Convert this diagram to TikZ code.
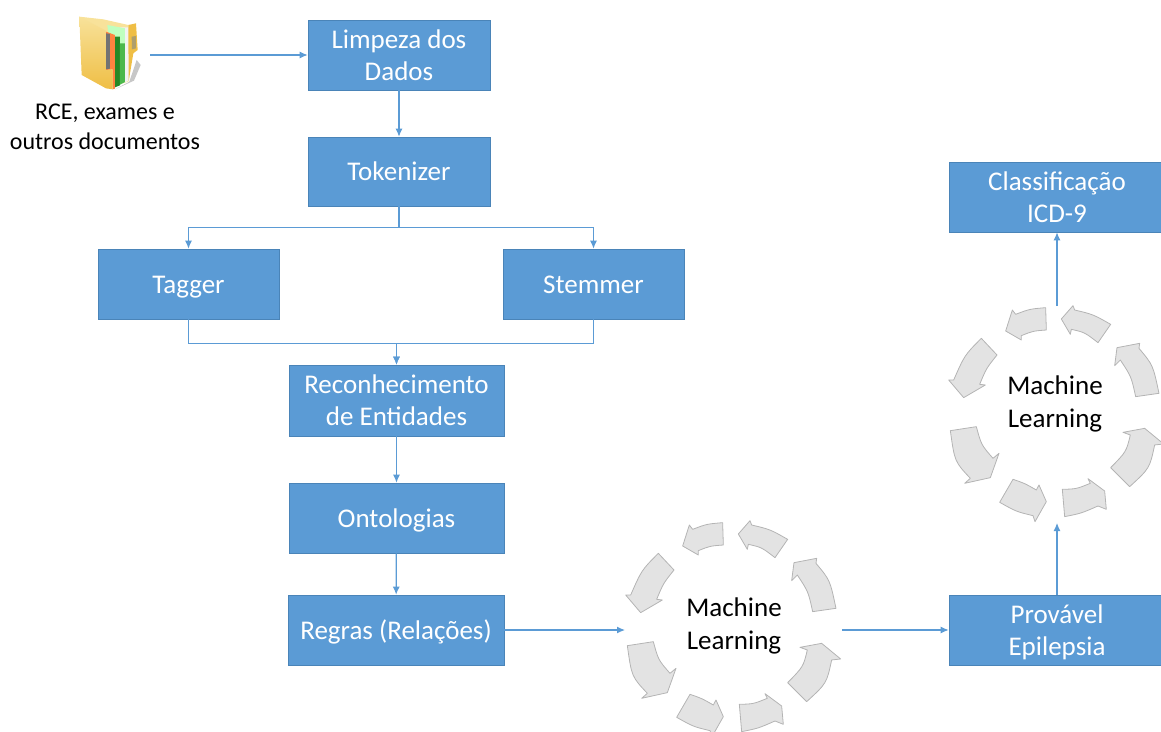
\documentclass[tikz,border=0pt]{standalone}
\usepackage{fontspec}
\setmainfont{Carlito}
\usetikzlibrary{arrows.meta}

\definecolor{boxblue}{HTML}{5B9BD5}
\definecolor{boxedge}{HTML}{4A84B8}
\definecolor{ringfill}{HTML}{E3E3E3}
\definecolor{ringedge}{HTML}{B4B4B4}
\definecolor{folderlight}{HTML}{F8E29A}
\definecolor{folderdark}{HTML}{EFBE45}

% one ring of eight curved arrows, traced in units of a third of a pixel
\newcommand{\mlring}{%
    \draw[ringarrow] (533,88) .. controls (480,58) .. (425,45) -- (420,32) -- (385,72) -- (412,118) -- (415,103) .. controls (455,112) .. (495,143) -- cycle;
    \draw[ringarrow] (338,38) .. controls (290,42) .. (248,58) -- (238,45) -- (218,108) -- (265,135) -- (265,122) .. controls (300,108) .. (340,105) -- cycle;
    \draw[ringarrow] (145,130) .. controls (95,180) .. (62,255) -- (47,255) -- (92,308) -- (157,270) -- (140,268) .. controls (160,220) .. (192,180) -- cycle;
    \draw[ringarrow] (52,407) .. controls (65,500) .. (112,550) -- (95,565) -- (172,548) -- (198,475) -- (180,490) .. controls (145,450) .. (130,395) -- cycle;
    \draw[ringarrow] (240,553) .. controls (275,565) .. (310,585) -- (318,570) -- (340,620) -- (306,680) -- (300,662) .. controls (250,650) .. (200,622) -- cycle;
    \draw[ringarrow] (388,583) .. controls (430,582) .. (472,565) -- (465,551) -- (515,588) -- (520,643) -- (495,633) .. controls (445,655) .. (395,665) -- cycle;
    \draw[ringarrow] (590,575) .. controls (650,520) .. (665,450) -- (692,447) -- (635,400) -- (570,412) -- (592,420) .. controls (580,470) .. (533,518) -- cycle;
    \draw[ringarrow] (678,295) .. controls (660,210) .. (618,160) -- (620,145) -- (552,158) -- (545,212) -- (562,195) .. controls (595,245) .. (608,305) -- cycle;
}

\begin{document}
\begin{tikzpicture}[x=1pt, y=-1pt,
    box/.style={draw=boxedge, line width=0.6pt, fill=boxblue, text=white, align=center,
        font=\fontsize{27}{32}\selectfont, inner sep=0pt},
    oneline/.style={box, execute at begin node={\rule{0pt}{28pt}}, execute at end node=\strut},
    plain/.style={align=center, inner sep=0pt},
    link/.style={draw=boxblue, line width=1.2pt, -{Latex[length=8pt,width=7pt]}},
    ringarrow/.style={draw=ringedge, fill=ringfill, line width=0.8pt, line join=round}]

    \useasboundingbox (0, 0) rectangle (1161, 731);
    \clip (0, 0) rectangle (1161, 731);

    % Folder icon
    \begin{scope}[shift={(70, 10)}, x=0.3333pt, y=-0.3333pt]
        \fill[black!22] (178, 215) -- (200, 150) -- (212, 165) -- (192, 212) -- (135, 238) -- cycle; % shadow
        \fill[folderlight] (28, 20) -- (100, 28) -- (175, 45) -- (175, 215) -- (108, 235) -- cycle; % back
        \fill[black!5] (150, 52) -- (178, 52) -- (178, 212) -- (150, 222) -- cycle; % sheet
        \fill[green!25!white] (112, 45) -- (165, 55) -- (165, 215) -- (135, 225) -- cycle;
        \fill[green!45!black!85] (135, 80) -- (150, 80) -- (150, 226) -- (135, 232) -- cycle;
        \fill[green!60!black!70] (150, 100) -- (165, 100) -- (165, 216) -- (150, 224) -- cycle;
        \fill[orange!70!red!75] (108, 65) -- (135, 75) -- (135, 236) -- (128, 238) -- (128, 178) -- (108, 180) -- cycle; % page
        \fill[black!55] (108, 70) -- (120, 72) -- (120, 176) -- (108, 178) -- cycle;
        \fill[folderdark] (175, 45) -- (198, 40) -- (203, 120) -- (190, 130) -- (176, 214) -- cycle; % rear tab
        \fill[black!30!folderlight] (185, 80) -- (198, 78) -- (198, 115) -- (186, 118) -- cycle;
        \shade[top color=folderlight, bottom color=folderdark] (28, 20) -- (108, 62) -- (108, 180) -- (128, 178) -- (128, 238) -- (108, 235) -- (35, 195) -- cycle; % front
    \end{scope}

    % Source label
    \node[plain, font=\fontsize{24}{30}\selectfont] (source) at (105, 127) {RCE, exames e\\outros documentos};
    \coordinate (folder) at (150, 55);

    % Pipeline boxes
    \node[box, minimum width=182, minimum height=70] (limpeza) at (399, 55) {Limpeza dos\\Dados};
    \node[oneline, minimum width=182, minimum height=69] (tokenizer) at (399, 171.5) {Tokenizer};
    \node[oneline, minimum width=181, minimum height=70] (tagger) at (188.5, 284) {Tagger};
    \node[oneline, minimum width=181, minimum height=70] (stemmer) at (593.5, 284) {Stemmer};
    \node[box, minimum width=215, minimum height=71] (reconhecimento) at (396.5, 400.5) {Reconhecimento\\de Entidades};
    \node[oneline, minimum width=215, minimum height=70] (ontologias) at (396.5, 518) {Ontologias};
    \node[oneline, minimum width=216, minimum height=70] (regras) at (396, 630) {Regras (Relações)};

    % Right hand boxes
    \node[box, minimum width=216, minimum height=70] (provavel) at (1057, 630) {Provável\\\smash{Epilepsia}};
    \node[box, minimum width=216, minimum height=70] (classificacao) at (1057, 197) {Classificação\\ICD-9};

    % Lower ring
    \begin{scope}[shift={(610, 510)}, x=0.3333pt, y=-0.3333pt]
        \mlring
    \end{scope}
    \node[plain, font=\fontsize{27}{33}\selectfont] (mlower) at (734, 626) {Machine\\Learning};
    \coordinate (lowerin) at (625, 630);
    \coordinate (lowerout) at (842, 630);

    % Upper ring
    \begin{scope}[shift={(933, 295)}, x=0.3333pt, y=-0.3333pt]
        \mlring
    \end{scope}
    \node[plain, font=\fontsize{27}{33}\selectfont] (mlupper) at (1055, 404) {Machine\\Learning};
    \coordinate (upperin) at (1057, 523);
    \coordinate (upperout) at (1057, 306);

    % Connectors
    \draw[link] (folder) -- (limpeza.west |- folder);
    \draw[link] (limpeza) -- (tokenizer);
    \draw[link] (tokenizer.south) -- ++(0, 21) -| (tagger.north);
    \draw[link] (tokenizer.south) -- ++(0, 21) -| (stemmer.north);
    \draw[link] (tagger.south) -- ++(0, 24) -| (reconhecimento.north);
    \draw[link] (stemmer.south) -- ++(0, 24) -| (reconhecimento.north);
    \draw[link] (reconhecimento) -- (ontologias);
    \draw[link] (ontologias) -- (regras);
    \draw[link] (regras.east) -- (lowerin);
    \draw[link] (lowerout) -- (provavel.west);
    \draw[link] (provavel.north) -- (upperin);
    \draw[link] (upperout) -- (classificacao.south);

\end{tikzpicture}
\end{document}
